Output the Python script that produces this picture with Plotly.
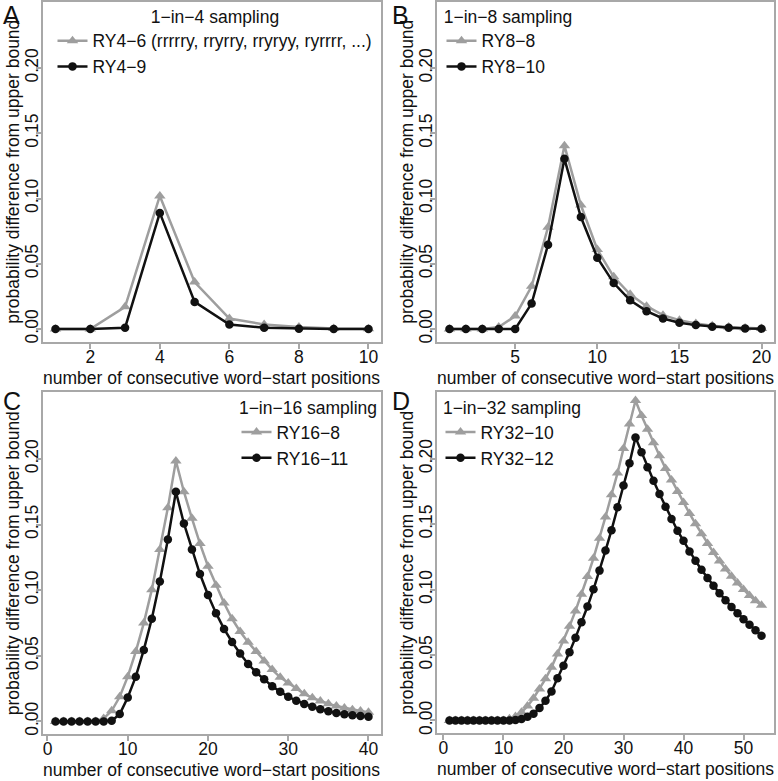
import plotly.graph_objects as go

# ---------------- data ----------------
A_x = list(range(1, 11))
A_ry4_6 = [0, 0, 0.017, 0.102, 0.036, 0.008, 0.0035, 0.0015, 0.0005, 0.0002]
A_ry4_9 = [0, 0, 0.001, 0.089, 0.0208, 0.0035, 0.001, 0.0003, 0, 0]

B_x = list(range(1, 21))
B_ry8_8 = [0, 0, 0, 0.0015, 0.0099, 0.0327, 0.078, 0.1405, 0.095, 0.061,
           0.040, 0.0266, 0.0175, 0.0106, 0.0068, 0.0043, 0.0025, 0.0015, 0.0008, 0.0005]
B_ry8_10 = [0, 0, 0, 0, 0, 0.0195, 0.0646, 0.1304, 0.0858, 0.0547,
            0.0352, 0.022, 0.0137, 0.0081, 0.0048, 0.003, 0.0018, 0.001, 0.0005, 0.0003]

C_x = list(range(1, 41))
C_ry16_8 = [0, 0, 0, 0, 0, 0, 0.0023, 0.0081, 0.0188, 0.0341,
            0.0532, 0.0749, 0.1004, 0.131, 0.1628, 0.1985, 0.175, 0.1547, 0.1355, 0.1182,
            0.1037, 0.0902, 0.0782, 0.0685, 0.0603, 0.0532, 0.046, 0.0395, 0.0336, 0.0293,
            0.025, 0.021, 0.018, 0.0155, 0.0135, 0.0117, 0.0103, 0.009, 0.0080, 0.0070]
C_ry16_11 = [0, 0, 0, 0, 0, 0, 0, 0.0005, 0.0056, 0.0183,
             0.0341, 0.0545, 0.0782, 0.1067, 0.1386, 0.175, 0.1508, 0.131, 0.1123, 0.0963,
             0.0825, 0.0705, 0.0605, 0.0517, 0.0438, 0.0374, 0.0321, 0.0268, 0.0227, 0.0188,
             0.0158, 0.0132, 0.0112, 0.0093, 0.0077, 0.0064, 0.0055, 0.0047, 0.0041, 0.0035]

D_x = list(range(1, 54))
D_ry32_10 = [0, 0, 0, 0, 0, 0, 0, 0, 0, 0,
             0.0013, 0.003, 0.0062, 0.011, 0.017, 0.024, 0.0318, 0.0406, 0.0508, 0.0607,
             0.072, 0.0837, 0.0965, 0.11, 0.124, 0.1393, 0.1555, 0.1725, 0.189, 0.2078,
             0.2265, 0.2445, 0.233, 0.2225, 0.2122, 0.2022, 0.1926, 0.1838, 0.175, 0.1665,
             0.1582, 0.1503, 0.1427, 0.1353, 0.1283, 0.1218, 0.1158, 0.1102, 0.105, 0.1,
             0.0955, 0.0915, 0.088]
D_ry32_12 = [0, 0, 0, 0, 0, 0, 0, 0, 0, 0,
             0, 0.0004, 0.0012, 0.0028, 0.0052, 0.0095, 0.015, 0.0222, 0.0323, 0.0419,
             0.0521, 0.0633, 0.075, 0.0871, 0.1002, 0.1145, 0.1298, 0.1454, 0.1629, 0.1795,
             0.1965, 0.2163, 0.2049, 0.1934, 0.1832, 0.173, 0.1633, 0.1539, 0.145, 0.1373,
             0.1292, 0.122, 0.1151, 0.1088, 0.1029, 0.0973, 0.0919, 0.0868, 0.082, 0.0774,
             0.0731, 0.069, 0.0647]

panels = [
    dict(letter="A", title="1\u2212in\u22124 sampling", x=A_x,
         names=["RY4\u22126 (rrrrry, rryrry, rryryy, ryrrrr, ...)", "RY4\u22129"],
         series=[A_ry4_6, A_ry4_9], xticks=[2, 4, 6, 8, 10]),
    dict(letter="B", title="1\u2212in\u22128 sampling", x=B_x,
         names=["RY8\u22128", "RY8\u221210"],
         series=[B_ry8_8, B_ry8_10], xticks=[5, 10, 15, 20]),
    dict(letter="C", title="1\u2212in\u221216 sampling", x=C_x,
         names=["RY16\u22128", "RY16\u221211"],
         series=[C_ry16_8, C_ry16_11], xticks=[0, 10, 20, 30, 40]),
    dict(letter="D", title="1\u2212in\u221232 sampling", x=D_x,
         names=["RY32\u221210", "RY32\u221212"],
         series=[D_ry32_10, D_ry32_12], xticks=[0, 10, 20, 30, 40, 50]),
]
y_ticks = [0, 0.05, 0.10, 0.15, 0.20]

# ---------------- layout geometry (pixels) ----------------
W, H = 778, 781
boxes = [(43, 381, 1, 342), (437, 774, 1, 342), (43, 381, 393, 736), (437, 774, 393, 735)]
FONT = "Liberation Sans, Arial, Helvetica, sans-serif"
FS = 17.5
GRAY = "#9e9e9e"
FRAME = "#a8a8a8"
BLACK = "#111111"

def px(x):
    return x / W

def py(y):
    return 1 - y / H

fig = go.Figure()
layout = dict(width=W, height=H, margin=dict(l=0, r=0, t=0, b=0),
              paper_bgcolor="white", plot_bgcolor="white",
              font=dict(family=FONT, size=FS, color=BLACK), showlegend=True)
annotations = []

# legend placement: (x, y, xanchor)
leg_pos = [
    (215, -1, "center"),
    (508, -1, "center"),
    (308, 392, "center"),
    (512, 392, "center"),
]

for i, p in enumerate(panels):
    k = "" if i == 0 else str(i + 1)
    x0, x1, y0, y1 = boxes[i]
    xs = p["x"]
    lo, hi = min(xs), max(xs)
    pad = 0.04 * (hi - lo)
    legname = "legend" + k
    for j, (nm, ys) in enumerate(zip(p["names"], p["series"])):
        if j == 0:
            marker = dict(symbol="triangle-up", size=10, color=GRAY)
            line = dict(color=GRAY, width=2.5)
        else:
            marker = dict(symbol="circle", size=8.5, color=BLACK)
            line = dict(color=BLACK, width=2.5)
        fig.add_trace(go.Scatter(x=xs, y=ys, mode="lines+markers", name=nm,
                                 marker=marker, line=line, cliponaxis=False,
                                 xaxis="x" + k, yaxis="y" + k, legend=legname))
    layout["xaxis" + k] = dict(domain=[px(x0), px(x1)], anchor="y" + k,
                               range=[lo - pad, hi + pad], tickvals=p["xticks"],
                               ticklabelstandoff=-7,
                               showgrid=False, zeroline=False, showline=True, mirror=True,
                               linecolor=FRAME, linewidth=2, ticks="outside", ticklen=5,
                               tickwidth=1.5, tickcolor=FRAME,
                               tickfont=dict(size=FS, color=BLACK, family=FONT))
    layout["yaxis" + k] = dict(domain=[py(y1), py(y0)], anchor="x" + k,
                               range=[-0.0097, 0.2506], tickvals=y_ticks, tickformat=".2f",
                               tickangle=-90, ticklabelstandoff=-9,
                               showgrid=False, zeroline=False, showline=True, mirror=True,
                               linecolor=FRAME, linewidth=2, ticks="outside", ticklen=5,
                               tickwidth=1.5, tickcolor=FRAME,
                               tickfont=dict(size=FS, color=BLACK, family=FONT))
    lx, ly, la = leg_pos[i]
    layout[legname] = dict(x=px(lx), y=py(ly), xanchor=la, yanchor="top",
                           bgcolor="rgba(0,0,0,0)", borderwidth=0,
                           font=dict(size=FS, color=BLACK, family=FONT),
                           title=dict(text=p["title"], side="top center",
                                      font=dict(size=FS, color=BLACK, family=FONT)),
                           itemwidth=30, tracegroupgap=0)
    # axis titles
    annotations.append(dict(text="number of consecutive word\u2212start positions",
                            x=px((x0 + x1) / 2), y=py(y1 + 36), xref="paper", yref="paper",
                            xanchor="center", yanchor="middle", showarrow=False,
                            font=dict(size=FS, color=BLACK, family=FONT)))
    annotations.append(dict(text="probability difference from upper bound",
                            x=px(x0 - 30), y=py((y0 + y1) / 2), xref="paper", yref="paper",
                            xanchor="center", yanchor="middle", showarrow=False, textangle=-90,
                            font=dict(size=FS, color=BLACK, family=FONT)))
    # panel letter
    lxp = 1 if i % 2 == 0 else 390
    lyp = 14 if i < 2 else 402
    annotations.append(dict(text=p["letter"], x=px(lxp), y=py(lyp), xref="paper", yref="paper",
                            xanchor="left", yanchor="middle", showarrow=False,
                            font=dict(size=25, color=BLACK, family=FONT)))

layout["annotations"] = annotations
fig.update_layout(**layout)
fig.write_html("out.html", config={"displayModeBar": False},
               post_script="document.body.style.margin='0px';document.body.style.overflow='hidden';")
